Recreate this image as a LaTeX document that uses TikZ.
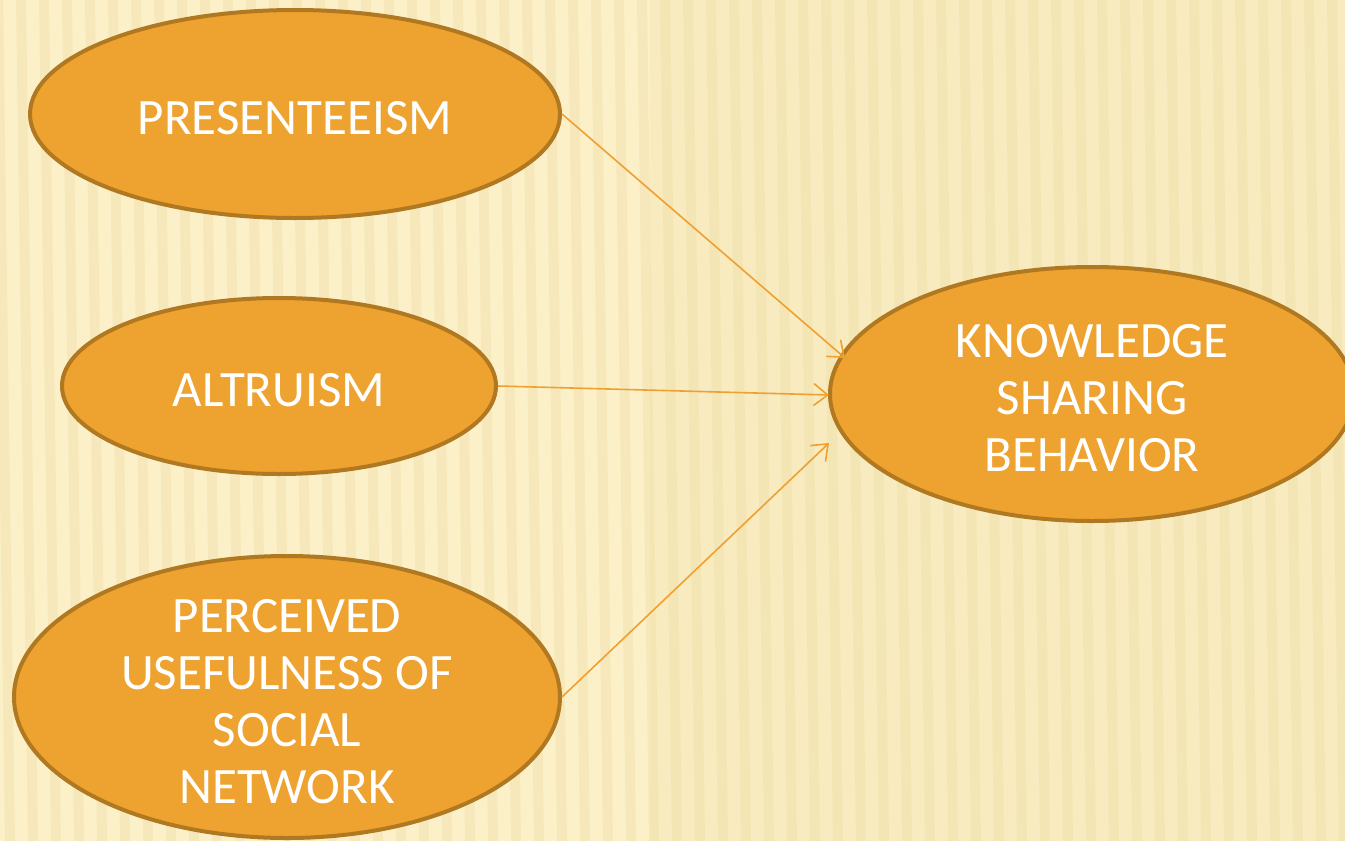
\documentclass[tikz,border=0pt]{standalone}
\usepackage{fontspec}
\setmainfont{Carlito}
\usetikzlibrary{shapes.geometric,arrows.meta,calc}
\definecolor{paper}{HTML}{FCF0C8}
\definecolor{stripe}{HTML}{EBD89C}
\definecolor{bubble}{HTML}{EEA22F}
\definecolor{rim}{HTML}{B07820}
\definecolor{link}{HTML}{F0A030}
\begin{document}
\begin{tikzpicture}[x=1pt,y=-1pt,
  bubblenode/.style={ellipse,draw=rim,line width=4pt,fill=bubble,inner sep=0pt},
  caption/.style={text=white,align=center,inner sep=0pt,font=\fontsize{51}{57}\selectfont},
  linkarrow/.style={draw=link,line width=1.6pt,-{Straight Barb[length=14pt,width=22pt,line width=1.6pt]}}]
\useasboundingbox (0,0) rectangle (1345,841);
\clip (0,0) rectangle (1345,841);
% paper background with faint ribbed stripes
\fill[paper] (0,0) rectangle (1345,841);
\fill[stripe,opacity=0.2] (650,0) rectangle (1345,841);
\foreach \i in {0,...,58}{
  \fill[stripe,opacity=0.3] ({\i*23-7},0) -- ({\i*23+3},0) -- ({\i*23+15},841) -- ({\i*23+5},841) -- cycle;
}
% concepts
\node[bubblenode,minimum width=530pt,minimum height=208pt] (pres) at (295,114) {};
\node[bubblenode,minimum width=434pt,minimum height=176pt] (alt) at (279,386) {};
\node[bubblenode,minimum width=546pt,minimum height=282pt] (perc) at (287,697) {};
\node[bubblenode,minimum width=524pt,minimum height=254pt] (know) at (1092,394) {};
\node[caption] (presT) at ([yshift=-4pt]pres.center) {PRESENTEEISM};
\node[caption] (altT) at ([yshift=-4pt]alt.center) {ALTRUISM};
\node[caption] (percT) at ([yshift=-5pt]perc.center) {PERCEIVED\\USEFULNESS OF\\SOCIAL\\NETWORK};
\node[caption] (knowT) at ([yshift=-4pt]know.center) {KNOWLEDGE\\SHARING\\BEHAVIOR};
% arrow tips sit just off the left rim of the outcome
\coordinate (in1) at ($(know.center)+(-247,-36)$);
\coordinate (in2) at ($(know.center)+(-263,1)$);
\coordinate (in3) at ($(know.center)+(-263,49)$);
% influences
\draw[linkarrow] (pres.east) -- (in1);
\draw[linkarrow] (alt.east) -- (in2);
\draw[linkarrow] (perc.east) -- (in3);
\end{tikzpicture}
\end{document}
